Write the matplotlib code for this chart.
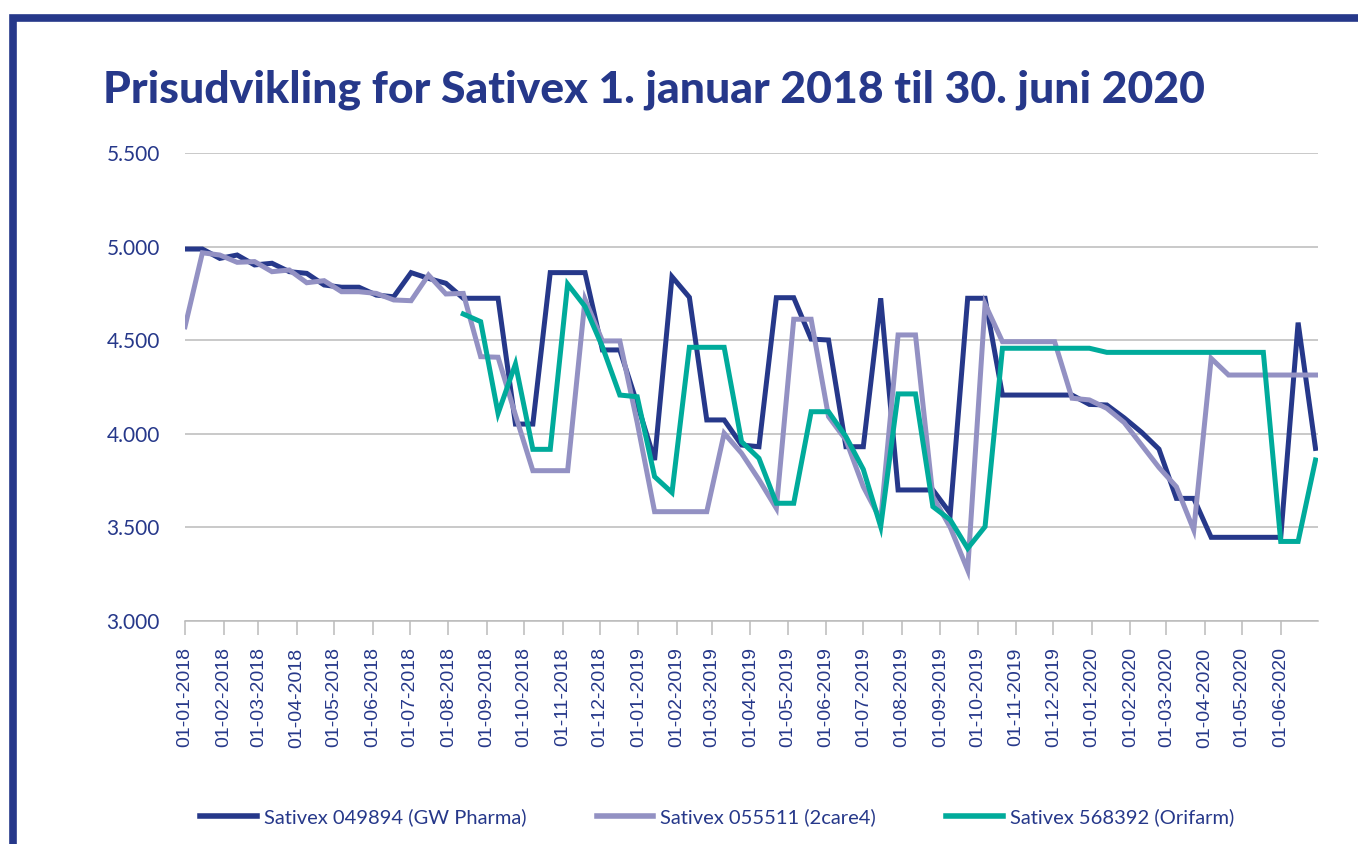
import matplotlib
matplotlib.use("Agg")
import matplotlib.pyplot as plt
import numpy as np
import pandas as pd
from matplotlib.patches import Rectangle

# data: prisen hver 14. dag fra 01-01-2018
dates = pd.date_range("2018-01-01", periods=66, freq="14D")

gw_pharma = [4987, 4987, 4937, 4955, 4902, 4911, 4866, 4857, 4795, 4783,
             4783, 4741, 4732, 4861, 4830, 4804, 4724, 4724, 4724, 4052,
             4052, 4861, 4861, 4861, 4448, 4448, 4160, 3860, 4839, 4729,
             4074, 4074, 3940, 3931, 4727, 4727, 4506, 4501, 3931, 3931,
             4724, 3700, 3700, 3700, 3575, 4724, 4724, 4207, 4207, 4207,
             4207, 4207, 4157, 4154, 4085, 4008, 3918, 3655, 3655, 3447,
             3447, 3447, 3447, 3447, 4594, 3922]

care4 = [4572, 4967, 4955, 4916, 4920, 4866, 4875, 4807, 4818, 4759,
         4759, 4750, 4715, 4711, 4848, 4747, 4750, 4412, 4409, 4100,
         3803, 3803, 3803, 4718, 4496, 4496, 4060, 3584, 3584, 3584,
         3584, 4003, 3896, 3755, 3602, 4612, 4612, 4092, 3967, 3717,
         3540, 4528, 4528, 3665, 3500, 3272, 4693, 4492, 4492, 4492,
         4492, 4190, 4181, 4136, 4060, 3940, 3820, 3717, 3486, 4403,
         4314, 4314, 4314, 4314, 4314, 4314]

orifarm = [np.nan] * 16 + [
    4640, 4599, 4109, 4373, 3917, 3917, 4800, 4680, 4465, 4207,
    4198, 3771, 3686, 4462, 4462, 4462, 3958, 3869, 3629, 3629,
    4118, 4118, 3985, 3810, 3504, 4213, 4213, 3611, 3540, 3388,
    3504, 4457, 4457, 4457, 4457, 4457, 4457, 4435, 4435, 4435,
    4435, 4435, 4435, 4435, 4435, 4435, 4435, 3425, 3425, 3860]

series_names = ["Sativex 049894 (GW Pharma)", "Sativex 055511 (2care4)",
                "Sativex 568392 (Orifarm)"]
colors = ["#26388A", "#9391C3", "#00AB9B"]

y_ticks = [3000, 3500, 4000, 4500, 5000, 5500]
month_ticks = pd.date_range("2018-01-01", "2020-06-01", freq="MS")

navy = "#26388A"

fig = plt.figure(figsize=(13.58, 8.44), dpi=100)

# ramme oppe og til venstre
fig.patches.append(Rectangle((13 / 1358, -0.1), 1.2, 1.1 - 18 / 844,
                             transform=fig.transFigure, fill=False,
                             edgecolor=navy, linewidth=5.5))

ax = fig.add_axes([185 / 1358, 1 - 621 / 844, (1318 - 185) / 1358, (621 - 153) / 844])

for vals, name, c in zip([gw_pharma, care4, orifarm], series_names, colors):
    ax.plot(dates, vals, color=c, lw=3.6, label=name, solid_joinstyle="miter")

ax.set_xlim(pd.Timestamp("2018-01-01"), pd.Timestamp("2020-07-01"))
ax.set_ylim(3000, 5500)
ax.set_yticks(y_ticks)
ax.set_yticklabels([f"{v:,}".replace(",", ".") for v in y_ticks],
                   fontsize=15, color=navy, family="Lato")
ax.set_xticks(month_ticks)
ax.set_xticklabels([d.strftime("%d-%m-%Y") for d in month_ticks], rotation=90,
                   fontsize=14, color=navy, family="Liberation Sans")

ax.grid(axis="y", color="#BBBBBB", lw=1.1)
ax.set_axisbelow(True)
for s in ["top", "right", "left"]:
    ax.spines[s].set_visible(False)
ax.spines["bottom"].set_color("#BBBBBB")
ax.spines["bottom"].set_linewidth(1.1)
ax.tick_params(axis="y", length=0, pad=18)
ax.tick_params(axis="x", length=10, color="#BBBBBB", width=1.1, pad=9)

fig.text(103 / 1358, 1 - 102 / 844, "Prisudvikling for Sativex 1. januar 2018 til 30. juni 2020",
         fontsize=32, fontweight="black", family="Lato", color=navy, va="baseline")

leg = fig.legend(loc="center", bbox_to_anchor=(0.528, 1 - 817 / 844), ncol=3, frameon=False,
                 prop={"family": "Lato", "size": 14.5}, handlelength=2.8,
                 columnspacing=3.5, handletextpad=0.35)
for t in leg.get_texts():
    t.set_color(navy)
for l in leg.get_lines():
    l.set_linewidth(4)

fig.savefig("out.png", dpi=100)
